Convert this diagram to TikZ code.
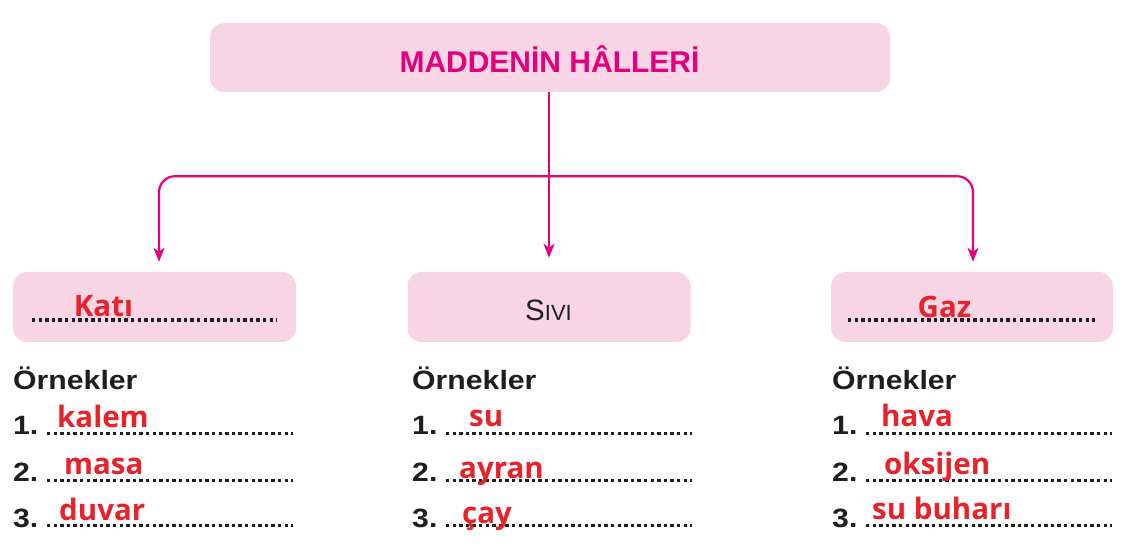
\documentclass[tikz,border=0pt]{standalone}
\usepackage{fontspec}
\setmainfont{Liberation Sans}
\newfontfamily\ansfont{Open Sans}
\newfontfamily\widefont{Liberation Sans}[FakeStretch=1.14]
\usetikzlibrary{arrows.meta}
\definecolor{boxpink}{RGB}{248,213,229}
\definecolor{mag}{RGB}{228,0,125}
\definecolor{ansred}{RGB}{232,34,42}
\definecolor{ink}{RGB}{30,30,30}
\begin{document}
\begin{tikzpicture}[x=1pt,y=-1pt,
  pinkbox/.style={fill=boxpink, draw=none, rounded corners=14pt, inner sep=0pt},
  conn/.style={draw=mag, line width=2.2pt, -{Stealth[length=14pt,width=11pt,inset=4pt]}},
  blank/.style={draw=ink, line width=3.4pt, dash pattern=on 3.3pt off 3.3pt},
  lbl/.style={anchor=base west, inner sep=0pt, text=ink, font=\widefont\bfseries\fontsize{26.5}{30}\selectfont},
  ans/.style={anchor=base west, inner sep=0pt, text=ansred, font=\ansfont\bfseries\fontsize{29.5}{34}\selectfont},
  ansc/.style={ans, anchor=base}]
\useasboundingbox (0,0) rectangle (1128,553);

% boxes
\node[pinkbox, minimum width=680pt, minimum height=69pt] (top) at (550,57.5) {};
\node[pinkbox, minimum width=283pt, minimum height=70pt] (kati) at (154.5,307) {};
\node[pinkbox, minimum width=283pt, minimum height=70pt] (sivi) at (549,307) {};
\node[pinkbox, minimum width=282pt, minimum height=70pt] (gaz) at (972,307) {};

% title
\node[anchor=base, inner sep=0pt, text=mag, font=\bfseries\fontsize{30}{36}\selectfont] (title) at (549.5,72.5) {MADDENİN HÂLLERİ};

% connectors
\coordinate (s) at (top.south -| sivi.north);
\path (s) ++(0,84) coordinate (j);
\draw[conn, shorten >=14pt] (s) -- (sivi.north);
\draw[conn, rounded corners=16pt, shorten >=10pt] (j) -| ([xshift=4.5pt]kati.north);
\draw[conn, rounded corners=16pt, shorten >=10pt] (j) -| ([xshift=1pt]gaz.north);

% box contents
\draw[blank] (32,320) -- (277,320);
\draw[blank] (848,320) -- (1095,320);
\node[anchor=base, inner sep=0pt, text=ink, font=\fontsize{29.5}{34}\selectfont] (sivit) at (548.5,321) {S{\fontsize{22}{26}\selectfont IVI}};
\node[ansc] (katit) at (103.5,317) {Katı};
\node[ansc] (gazt) at (944.5,318) {Gaz};

% column labels
\node[lbl] (o1) at (13,389.5) {Örnekler};
\node[lbl] (o2) at (412,389.5) {Örnekler};
\node[lbl] (o3) at (832,389.5) {Örnekler};

\foreach \x/\c in {13/a,412/b,832/c}{
  \node[lbl] (\c n1) at (\x,435) {1.};
  \node[lbl] (\c n2) at (\x,482) {2.};
  \node[lbl] (\c n3) at (\x,527) {3.};
  \draw[blank] (\x+34,433.5) -- (\x+280,433.5);
  \draw[blank] (\x+34,480.5) -- (\x+280,480.5);
  \draw[blank] (\x+34,525.5) -- (\x+280,525.5);
}

% answers
\node[ans] (a1) at (57,428) {kalem};
\node[ans] (a2) at (64,475) {masa};
\node[ans] (a3) at (59,520) {duvar};
\node[ans] (b1) at (469,427) {su};
\node[ans] (b2) at (459,478) {ayran};
\node[ans] (b3) at (462,523) {çay};
\node[ans] (c1) at (881,427) {hava};
\node[ans] (c2) at (884,475) {oksijen};
\node[ans] (c3) at (872,519) {su buharı};
\end{tikzpicture}
\end{document}
